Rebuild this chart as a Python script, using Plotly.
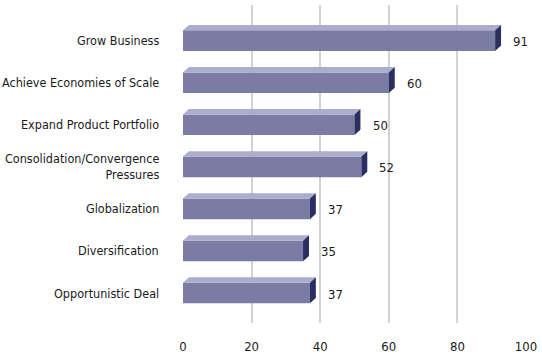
import plotly.graph_objects as go

# Reasons for deals, share of respondents (%)
categories = [
    "Grow Business",
    "Achieve Economies of Scale",
    "Expand Product Portfolio",
    "Consolidation/Convergence<br>Pressures",
    "Globalization",
    "Diversification",
    "Opportunistic Deal",
]
values = [91, 60, 50, 52, 37, 35, 37]
x_ticks = [0, 20, 40, 60, 80, 100]

FONT = "DejaVu Sans Condensed, Liberation Sans Narrow, sans-serif"
FRONT = "#7a7ca3"
TOP = "#abadcd"
SIDE = "#2a2e60"
TEXT = "#1a1a1a"

W, H = 542, 359
L, R, T, B = 183, 12, 5, 27
x_range = [0, 100]
y_range = [6.713, -0.847]

# pixel -> data conversions for the extruded depth of each bar
px_per_x = (W - L - R) / (x_range[1] - x_range[0])
px_per_y = (H - T - B) / (y_range[0] - y_range[1])
dx = 6 / px_per_x
dy = 5.5 / px_per_y
half = 10.6 / px_per_y

fig = go.Figure()

for i, v in enumerate(values):
    top, bot = i - half, i + half
    # front face
    fig.add_trace(go.Scatter(
        x=[0, v, v, 0, 0], y=[bot, bot, top, top, bot],
        fill="toself", fillcolor=FRONT, mode="lines",
        line=dict(width=0), hoverinfo="skip", showlegend=False))
    # top face
    fig.add_trace(go.Scatter(
        x=[0, v, v + dx, dx, 0], y=[top, top, top - dy, top - dy, top],
        fill="toself", fillcolor=TOP, mode="lines",
        line=dict(width=0), hoverinfo="skip", showlegend=False))
    # right side face
    fig.add_trace(go.Scatter(
        x=[v, v + dx, v + dx, v, v], y=[top, top - dy, bot - dy, bot, top],
        fill="toself", fillcolor=SIDE, mode="lines",
        line=dict(width=0), hoverinfo="skip", showlegend=False))
    # value label
    fig.add_annotation(x=v, y=i, text=str(v), showarrow=False,
                       xanchor="left", yanchor="middle", xshift=16, yshift=-1,
                       font=dict(family=FONT, size=13, color=TEXT))
    # category label
    fig.add_annotation(x=0, xref="paper", y=i, yref="y", text=categories[i],
                       showarrow=False, xanchor="right", yanchor="middle",
                       align="right", xshift=-22,
                       font=dict(family=FONT, size=12.5, color=TEXT))

fig.update_layout(
    width=W, height=H,
    margin=dict(l=L, r=R, t=T, b=B),
    paper_bgcolor="white", plot_bgcolor="white",
    showlegend=False,
    xaxis=dict(range=x_range, tickvals=x_ticks, ticktext=[str(t) for t in x_ticks],
               showgrid=True, gridcolor="#d2d2d2", gridwidth=1.5,
               zeroline=False, showline=False,
               ticks="outside", ticklen=11, tickcolor="rgba(0,0,0,0)",
               ticklabeloverflow="allow",
               tickfont=dict(family=FONT, size=13, color=TEXT),
               fixedrange=True),
    yaxis=dict(range=y_range, showgrid=False, zeroline=False, showline=False,
               showticklabels=False, ticks="", fixedrange=True),
)

fig.write_html("out.html")
